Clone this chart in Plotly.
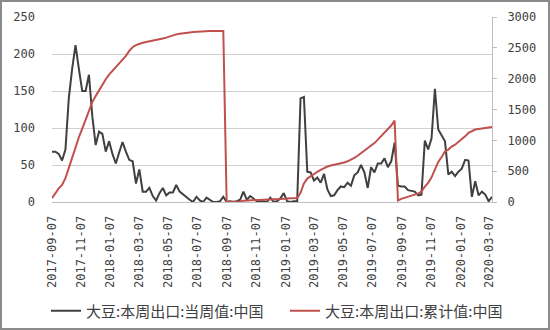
import pandas as pd
import plotly.graph_objects as go

start_date = "2017-09-07"

weekly_export = [
    68, 68, 65, 56, 71, 140, 180, 212, 180, 150,
    150, 172, 116, 77, 95, 92, 68, 82, 65, 52,
    67, 81, 68, 57, 55, 25, 44, 14, 14, 19,
    8, 2, 12, 19, 9, 13, 13, 23, 14, 10,
    7, 3, 0, 7, 2, 0, 6, 3, 0, 0,
    1, 7,
    0, 1, 0, 1, 3, 14, 3, 8, 5, 1,
    0, 1, 0, 6, 0, 1, 5, 12, 1, 0,
    1, 1, 140, 142, 41, 40, 29, 33, 26, 38,
    17, 8, 9, 16, 21, 20, 26, 22, 36, 40,
    50, 40, 19, 47, 40, 52, 52, 59, 47, 55, 80, 22,
    21, 21, 16, 15, 14, 9, 10, 83, 71, 86,
    153, 98, 89, 82, 37, 41, 35, 41, 45, 57,
    56, 7, 28, 9, 14, 10, 1, 7,
]

cumulative_export = [
    60, 150, 220, 277, 386, 550, 720, 902, 1050, 1190,
    1337, 1500, 1620, 1717, 1810, 1900, 1990, 2065, 2125, 2180,
    2235, 2300, 2370, 2450, 2510, 2545, 2570, 2583, 2595, 2605,
    2613, 2625, 2638, 2652, 2665, 2685, 2705, 2718, 2730, 2740,
    2745, 2750, 2755, 2760, 2764, 2767, 2769, 2771, 2772, 2772,
    2773, 2774,
    5, 6, 6, 7, 10, 22, 25, 32, 37, 38,
    38, 39, 39, 44, 44, 45, 50, 60, 61, 61, 62, 63,
    150, 300, 380, 420, 455, 490, 520, 550, 575, 592,
    603, 608, 620, 640, 660, 685, 715, 750, 790, 836,
    870, 905, 955, 1011, 1065, 1120, 1180, 1240, 1320,
    25, 50, 70, 87, 105, 120, 135, 170, 250, 310,
    400, 520, 650, 730, 820, 850, 900, 930, 970, 1020,
    1065, 1120, 1150, 1175, 1185, 1195, 1200, 1210, 1218,
]

tick_labels = [
    "2017-09-07", "2017-11-07", "2018-01-07", "2018-03-07", "2018-05-07",
    "2018-07-07", "2018-09-07", "2018-11-07", "2019-01-07", "2019-03-07",
    "2019-05-07", "2019-07-07", "2019-09-07", "2019-11-07", "2020-01-07",
    "2020-03-07",
]
left_ticks = [0, 50, 100, 150, 200, 250]
right_ticks = [0, 500, 1000, 1500, 2000, 2500, 3000]

series_names = ["大豆:本周出口:当周值:中国", "大豆:本周出口:累计值:中国"]

dates = pd.date_range(start_date, periods=len(weekly_export), freq="7D")

W, H = 550, 330
ML, MR, MT, MB = 52, 58, 17, 128
PW, PH = W - ML - MR, H - MT - MB

tick_font = dict(family="DejaVu Sans Mono", size=12, color="#404040")
legend_font = dict(family="Noto Sans CJK SC", size=15, color="#404040")


def px_x(p):
    return (p - ML) / PW


def px_y(p):
    return (H - MB - p) / PH


fig = go.Figure()
fig.add_trace(go.Scatter(
    x=dates, y=weekly_export, name=series_names[0], mode="lines",
    line=dict(color="#404040", width=2), yaxis="y", legend="legend",
))
fig.add_trace(go.Scatter(
    x=dates, y=cumulative_export, name=series_names[1], mode="lines",
    line=dict(color="#C0504D", width=2), yaxis="y2", legend="legend2",
))

legend_common = dict(
    orientation="h", xref="container", yref="container",
    xanchor="left", y=1 - 311 / H, yanchor="middle",
    font=legend_font, bgcolor="rgba(0,0,0,0)",
)

fig.update_layout(
    width=W, height=H,
    margin=dict(l=ML, r=MR, t=MT, b=MB, autoexpand=False),
    paper_bgcolor="white", plot_bgcolor="white",
    showlegend=True,
    legend=dict(x=46 / W, **legend_common),
    legend2=dict(x=285 / W, **legend_common),
    xaxis=dict(
        type="date", range=[dates[0], dates[-1]],
        tickvals=tick_labels, ticktext=tick_labels, tickangle=-90,
        tickfont=tick_font, showgrid=False, zeroline=False,
        showline=True, linecolor="#bfbfbf", linewidth=1,
        ticks="", ticklabelstandoff=8, automargin=False,
    ),
    yaxis=dict(
        range=[0, 250], tickvals=left_ticks, tickfont=tick_font,
        showgrid=True, gridcolor="#d0d0d0", gridwidth=1,
        zeroline=False, showline=False, ticks="", ticklabelstandoff=16,
        automargin=False,
    ),
    yaxis2=dict(
        range=[0, 3000], tickvals=right_ticks, tickfont=tick_font,
        overlaying="y", side="right", showgrid=False, zeroline=False,
        showline=True, linecolor="#bfbfbf", linewidth=1,
        ticks="outside", ticklen=4, tickcolor="#bfbfbf", ticklabelstandoff=8,
        automargin=False,
    ),
    shapes=[dict(
        type="rect", xref="paper", yref="paper",
        x0=px_x(1), x1=px_x(W - 1),
        y0=px_y(H - 1), y1=px_y(1),
        line=dict(color="#8a8a8a", width=2), fillcolor="rgba(0,0,0,0)",
        layer="above",
    )],
)

fig.write_html("out.html")
